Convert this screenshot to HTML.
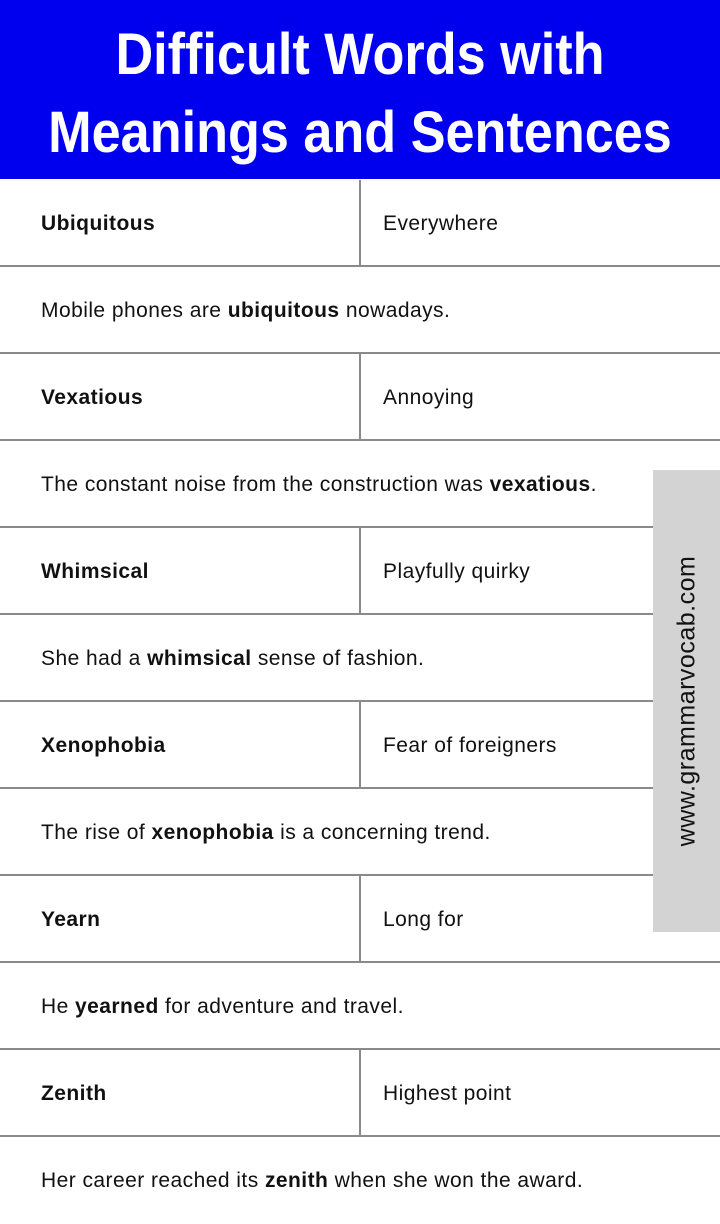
<!DOCTYPE html>
<html><head><style>
*{margin:0;padding:0;box-sizing:border-box}
body{width:720px;height:1223px;background:#fff;position:relative;overflow:hidden;font-family:"Liberation Sans",sans-serif;color:#111}
.hdr{position:absolute;left:0;top:0;width:720px;height:179px;background:#0000ee;color:#fff;font-family:"Liberation Sans",sans-serif;font-weight:bold;font-size:58px;line-height:78px}
.hdr div{position:absolute;left:0;width:720px;text-align:center;transform:scaleX(0.9);white-space:nowrap}
.row{position:absolute;left:0;width:720px;height:87px;border-bottom:2px solid #8a8a8a;font-size:21px;letter-spacing:0.45px;line-height:87px}
.row .a{position:absolute;left:41px;top:0;font-weight:bold}
.row .b{position:absolute;left:383px;top:0}
.row .v{position:absolute;left:359px;top:0;width:2px;height:87px;background:#8a8a8a}
.row .s{position:absolute;left:41px;top:0}
.side{position:absolute;left:653px;top:470px;width:67px;height:462px;background:#d3d3d3}
.side span{position:absolute;left:50%;top:50%;transform:translate(-50%,-50%) rotate(-90deg);font-size:25px;white-space:nowrap;letter-spacing:0.5px;color:#111}
</style></head><body>
<div class="hdr"><div style="top:16px">Difficult Words with</div><div style="top:94px">Meanings and Sentences</div></div>
<div class="row" style="top:180px"><span class="a">Ubiquitous</span><div class="v"></div><span class="b">Everywhere</span></div>
<div class="row" style="top:267px"><span class="s">Mobile phones are <b>ubiquitous</b> nowadays.</span></div>
<div class="row" style="top:354px"><span class="a">Vexatious</span><div class="v"></div><span class="b">Annoying</span></div>
<div class="row" style="top:441px"><span class="s">The constant noise from the construction was <b>vexatious</b>.</span></div>
<div class="row" style="top:528px"><span class="a">Whimsical</span><div class="v"></div><span class="b">Playfully quirky</span></div>
<div class="row" style="top:615px"><span class="s">She had a <b>whimsical</b> sense of fashion.</span></div>
<div class="row" style="top:702px"><span class="a">Xenophobia</span><div class="v"></div><span class="b">Fear of foreigners</span></div>
<div class="row" style="top:789px"><span class="s">The rise of <b>xenophobia</b> is a concerning trend.</span></div>
<div class="row" style="top:876px"><span class="a">Yearn</span><div class="v"></div><span class="b">Long for</span></div>
<div class="row" style="top:963px"><span class="s">He <b>yearned</b> for adventure and travel.</span></div>
<div class="row" style="top:1050px"><span class="a">Zenith</span><div class="v"></div><span class="b">Highest point</span></div>
<div class="row" style="top:1137px;border-bottom:none"><span class="s">Her career reached its <b>zenith</b> when she won the award.</span></div>
<div class="side"><span>www.grammarvocab.com</span></div>
</body></html>
